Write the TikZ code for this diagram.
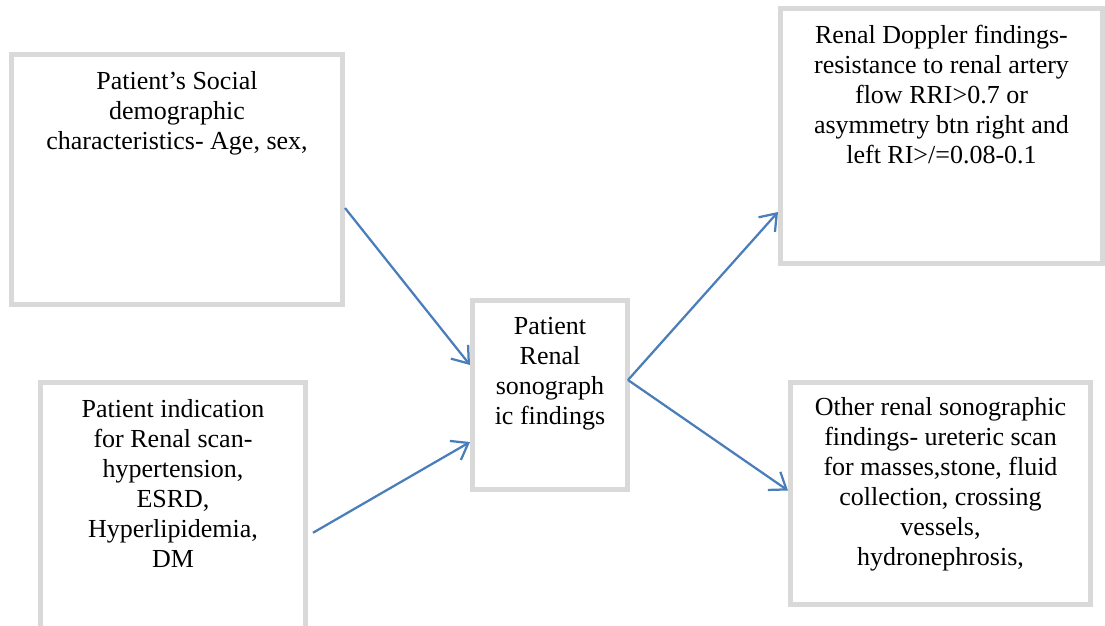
\documentclass[tikz,border=0pt]{standalone}
\usepackage{fontspec}
\setmainfont{Liberation Serif}
\usetikzlibrary{positioning,arrows.meta}
\definecolor{boxgray}{RGB}{217,217,217}
\definecolor{arrowblue}{RGB}{74,126,187}

\begin{document}
\begin{tikzpicture}[x=1pt, y=-1pt]
        \tikzstyle{box}=[draw=boxgray, line width=5pt, fill=white]
        \tikzstyle{boxtext}=[align=center, inner sep=0pt, font=\fontsize{26}{30}\selectfont]
        \tikzstyle{arr}=[draw=arrowblue, line width=2.25pt, -{Straight Barb[length=15pt, width=22pt]}]

        \useasboundingbox (0,0) rectangle (1105,625);

        \node   (social)    [box, minimum width=331pt, minimum height=249.5pt] at (177,179.25) {};
        \node   (ind)       [box, minimum width=265pt, minimum height=262.5pt] at (173,513.75) {};
        \node   (center)    [box, minimum width=155pt, minimum height=189pt] at (550,395) {};
        \node   (doppler)   [box, minimum width=322pt, minimum height=255pt] at (941.5,136) {};
        \node   (other)     [box, minimum width=300pt, minimum height=222pt] at (940.5,493.5) {};

        \node   (socialtext)    [boxtext, below=19pt of social.north] {Patient’s Social\\demographic\\characteristics- Age, sex,};
        \node   (indtext)       [boxtext, below=19pt of ind.north] {Patient indication\\for Renal scan-\\hypertension,\\ESRD,\\Hyperlipidemia,\\DM};
        \node   (centertext)    [boxtext, below=19pt of center.north] {Patient\\Renal\\sonograph\\ic findings};
        \node   (dopplertext)   [boxtext, below=19pt of doppler.north] {Renal Doppler findings-\\resistance to renal artery\\flow RRI>0.7 or\\asymmetry btn right and\\left RI>/=0.08-0.1};
        \node   (othertext)     [boxtext, below=17pt of other.north] {Other renal sonographic\\findings- ureteric scan\\for masses,stone, fluid\\collection, crossing\\vessels,\\hydronephrosis,};

        \coordinate (fork) at ([xshift=-2pt, yshift=15pt]center.east);

        \draw[arr]  ([yshift=-28.75pt]social.east) -- ([yshift=30pt]center.west);
        \draw[arr]  ([xshift=5pt, yshift=-19pt]ind.east) -- ([yshift=-47pt]center.west);
        \draw[arr]  (fork) -- ([yshift=-76pt]doppler.west);
        \draw[arr]  (fork) -- ([yshift=3pt]other.west);

\end{tikzpicture}
\end{document}
